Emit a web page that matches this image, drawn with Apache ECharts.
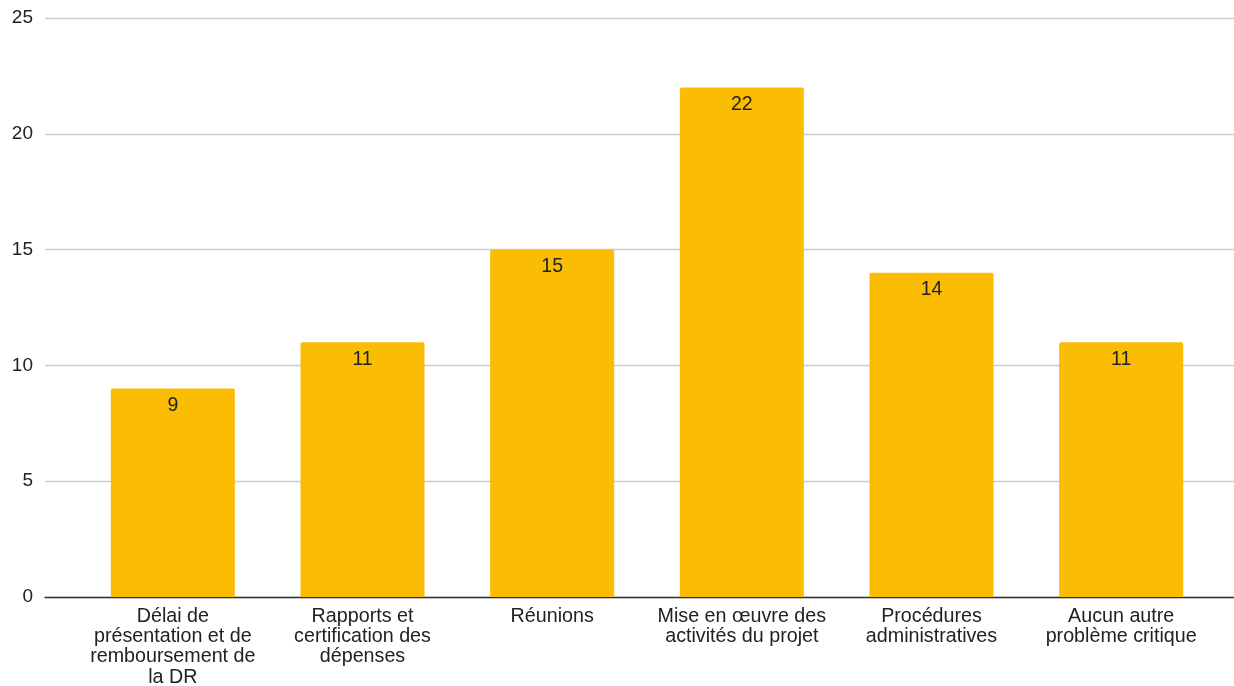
<!DOCTYPE html>
<html><head><meta charset="utf-8">
<script src="https://cdn.jsdelivr.net/npm/echarts@6/dist/echarts.min.js"></script>
<style>html,body{margin:0;padding:0;background:#fff}#c{width:1234px;height:686px}</style>
</head><body><div id="c"></div>
<script>
const categories = [
  "Délai de\nprésentation et de\nremboursement de\nla DR",
  "Rapports et\ncertification des\ndépenses",
  "Réunions",
  "Mise en œuvre des\nactivités du projet",
  "Procédures\nadministratives",
  "Aucun autre\nproblème critique"
];
const values = [9, 11, 15, 22, 14, 11];
const yTicks = [0, 5, 10, 15, 20, 25];

const font = "Liberation Sans, Arial, sans-serif";
const chart = echarts.init(document.getElementById('c'));
chart.setOption({
  animation: false,
  grid: [
    {left: 45, right: 0, top: 18, bottom: 89, containLabel: false, outerBoundsMode: 'none'},
    {left: 78, right: 18, top: 18, bottom: 89, containLabel: false, outerBoundsMode: 'none'}
  ],
  xAxis: [
    {gridIndex: 0, type: 'category', data: [''], axisLabel: {show: false}, axisTick: {show: false},
     axisLine: {show: true, lineStyle: {color: '#333', width: 1.3}}},
    {gridIndex: 1, type: 'category', data: categories, axisTick: {show: false},
     axisLine: {show: false},
     axisLabel: {interval: 0, color: '#222', fontSize: 19.7, fontFamily: font, lineHeight: 20.4, margin: 9}}
  ],
  yAxis: [
    {gridIndex: 0, type: 'value', min: yTicks[0], max: yTicks[yTicks.length-1], interval: 5,
     axisLabel: {color: '#222', fontSize: 19, fontFamily: font, margin: 12},
     splitLine: {lineStyle: {color: '#cccccc', width: 1.3}},
     axisLine: {show: false}, axisTick: {show: false}},
    {gridIndex: 1, type: 'value', min: yTicks[0], max: yTicks[yTicks.length-1], interval: 5,
     axisLabel: {show: false}, splitLine: {show: false}, axisLine: {show: false}, axisTick: {show: false}}
  ],
  series: [{
    type: 'bar', xAxisIndex: 1, yAxisIndex: 1, data: values,
    barCategoryGap: '34.6%',
    itemStyle: {color: '#fbbc04', borderRadius: [2, 2, 0, 0]},
    label: {show: true, position: 'insideTop', distance: 7, color: '#222', fontSize: 19.5, fontFamily: font}
  }]
});
</script></body></html>
